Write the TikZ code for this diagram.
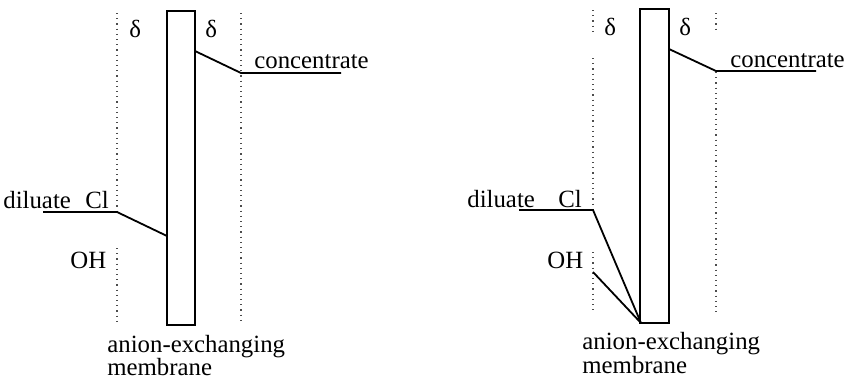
\documentclass[tikz,border=0pt]{standalone}
\usepackage{fontspec}
\setmainfont{Liberation Serif}
\usepackage{tikz}
\usetikzlibrary{positioning}

\tikzset{
  txt/.style={inner sep=0pt, anchor=base west, font=\fontsize{12.4}{14}\selectfont},
  bnd/.style={dotted, line width=0.6pt, black!70},
  prof/.style={line width=0.9pt},
  memb/.style={line width=0.9pt}
}

\begin{document}
\begin{tikzpicture}[x=0.5pt,y=-0.5pt]
\useasboundingbox (0,0) rectangle (848,381);
\draw[memb] (167,11) rectangle (195,325);
\draw[bnd] (117,13) -- (117,212);
\draw[bnd] (117,248) -- (117,323);
\draw[bnd] (241,13) -- (241,323);
\node[txt] (dl1) at (129,37) {δ};
\node[txt] (dr1) at (205,37) {δ};
\node[txt] (conc1) at (254,68) {concentrate};
\node[txt] (dil1) at (3,208) {diluate};
\node[txt] (cl1) at (85,208) {Cl};
\node[txt] (oh1) at (70,268) {OH};
\node[txt] (an1) at (107,352) {anion-exchanging};
\node[txt] (mb1) at (107,375) {membrane};
\coordinate (c1a) at (195,51);
\coordinate (c1b) at (241,73);
\coordinate (c1c) at (341,73);
\coordinate (d1a) at (43,212);
\coordinate (d1b) at (117,212);
\coordinate (d1c) at (167,236);
\draw[prof] (c1a) -- (c1b) -- (c1c);
\draw[prof] (d1a) -- (d1b) -- (d1c);
\draw[memb] (640,9) rectangle (669,323);
\draw[bnd] (593,10) -- (593,32);
\draw[bnd] (593,58) -- (593,210);
\draw[bnd] (593,252) -- (593,313);
\draw[bnd] (716,13) -- (716,32);
\draw[bnd] (716,72) -- (716,315);
\node[txt] (dl2) at (604,35) {δ};
\node[txt] (dr2) at (679,35) {δ};
\node[txt] (conc2) at (730,67) {concentrate};
\node[txt] (dil2) at (467,207) {diluate};
\node[txt] (cl2) at (558,207) {Cl};
\node[txt] (oh2) at (547,268) {OH};
\node[txt] (an2) at (582,349) {anion-exchanging};
\node[txt] (mb2) at (582,373) {membrane};
\coordinate (c2a) at (669,49);
\coordinate (c2b) at (716,71);
\coordinate (c2c) at (816,71);
\coordinate (d2a) at (519,210);
\coordinate (d2b) at (593,210);
\coordinate (w2) at (641,323);
\coordinate (o2a) at (593,272);
\draw[prof] (c2a) -- (c2b) -- (c2c);
\draw[prof] (d2a) -- (d2b) -- (w2);
\draw[prof] (o2a) -- (w2);
\end{tikzpicture}
\end{document}
